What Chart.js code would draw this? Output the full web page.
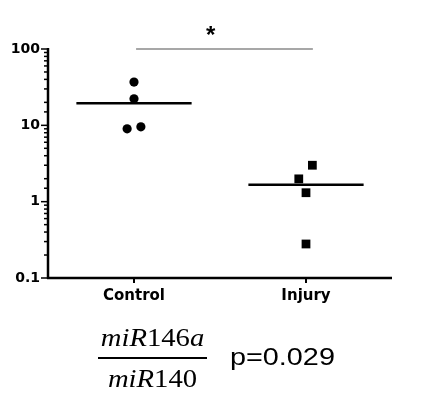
<!DOCTYPE html>
<html>
<head>
<meta charset="utf-8">
<script src="https://cdn.jsdelivr.net/npm/chart.js@4/dist/chart.umd.min.js"></script>
<style>
  html, body { margin: 0; padding: 0; background: #fff; }
  #wrap { position: relative; width: 432px; height: 407px; overflow: hidden; }
  #c { position: absolute; left: 0; top: 0; }
  .ann { position: absolute; white-space: nowrap; color: #000; }
  .star { font-family: "Liberation Sans", Arial, sans-serif; font-weight: bold; font-size: 24px; line-height: 24px; }
  .frac { font-family: "Liberation Serif", "Times New Roman", serif; font-size: 24.5px; line-height: 24.5px; text-align: center; transform: scaleX(1.17); transform-origin: center; }
  .fracline { position: absolute; height: 0; border-top: 2px solid #000; }
  .pval { font-family: "Liberation Sans", Arial, sans-serif; font-size: 24px; line-height: 24px; transform: scaleX(1.2); transform-origin: left; }
</style>
</head>
<body>
<div id="wrap">
  <canvas id="c" width="432" height="407"></canvas>
  <div class="ann star" id="star" style="left:206px; top:23px;">*</div>
  <div class="ann frac" style="left:98px; width:109px; top:326px;"><i>miR</i>146<i>a</i></div>
  <div class="fracline" style="left:98px; width:109px; top:357px;"></div>
  <div class="ann frac" style="left:98px; width:109px; top:367px;"><i>miR</i>140</div>
  <div class="ann pval" style="left:230px; top:345px;">p=0.029</div>
</div>
<script>
// ---- data ----
const categories = ['Control', 'Injury'];
const controlValues = [36.9, 22.3, 9.0, 9.55];
const controlJitter = [0, 0, -0.04, 0.04];
const injuryValues = [3.0, 1.99, 1.31, 0.279];
const injuryJitter = [0.037, -0.042, 0, 0];
const groupMeans = [19.5, 1.67];
const yTickValues = [0.1, 1, 10, 100];
const sigBracket = { from: 0.012, to: 1.04, y: 100 };

const meanHalfWidth = 0.335;

const controlPts = controlValues.map((v, i) => ({ x: 0 + controlJitter[i], y: v }));
const injuryPts = injuryValues.map((v, i) => ({ x: 1 + injuryJitter[i], y: v }));
const meanLine = (idx) => [
  { x: idx - meanHalfWidth, y: groupMeans[idx] },
  { x: idx + meanHalfWidth, y: groupMeans[idx] }
];

const axesPlugin = {
  id: 'prismAxes',
  afterDraw(chart) {
    const ctx = chart.ctx;
    const area = chart.chartArea;
    const ys = chart.scales.y;
    const xs = chart.scales.x;
    ctx.save();
    ctx.strokeStyle = '#000';
    ctx.lineCap = 'butt';
    // y ticks (major longer, minor shorter)
    ctx.lineWidth = 1.5;
    ys.ticks.forEach(t => {
      const py = ys.getPixelForValue(t.value);
      const lg = Math.log10(t.value);
      const major = Math.abs(lg - Math.round(lg)) < 1e-6;
      const len = major ? 7 : 4;
      ctx.beginPath();
      ctx.moveTo(area.left - len, py);
      ctx.lineTo(area.left, py);
      ctx.stroke();
    });
    // x ticks
    ctx.lineWidth = 2;
    [0, 1].forEach(v => {
      const px = xs.getPixelForValue(v);
      ctx.beginPath();
      ctx.moveTo(px, area.bottom);
      ctx.lineTo(px, area.bottom + 5);
      ctx.stroke();
    });
    // axis lines
    ctx.lineWidth = 2.5;
    ctx.beginPath();
    ctx.moveTo(area.left, area.top - 1);
    ctx.lineTo(area.left, area.bottom + 1);
    ctx.stroke();
    ctx.beginPath();
    ctx.moveTo(area.left - 1, area.bottom);
    ctx.lineTo(area.right, area.bottom);
    ctx.stroke();
    ctx.restore();
  }
};

new Chart(document.getElementById('c'), {
  type: 'scatter',
  data: {
    datasets: [
      {
        label: 'Control',
        data: controlPts,
        pointStyle: 'circle',
        pointRadius: 4.6,
        pointHoverRadius: 4.6,
        backgroundColor: '#000',
        borderColor: '#000',
        borderWidth: 0,
        clip: false
      },
      {
        label: 'Injury',
        data: injuryPts,
        pointStyle: 'rect',
        pointRadius: 6.2,
        pointHoverRadius: 6.2,
        backgroundColor: '#000',
        borderColor: '#000',
        borderWidth: 0,
        clip: false
      },
      {
        label: 'Control mean',
        data: meanLine(0),
        showLine: true,
        pointRadius: 0,
        borderColor: '#000',
        borderWidth: 2.5,
        clip: false
      },
      {
        label: 'Injury mean',
        data: meanLine(1),
        showLine: true,
        pointRadius: 0,
        borderColor: '#000',
        borderWidth: 2.5,
        clip: false
      },
      {
        label: 'Significance',
        data: [{ x: sigBracket.from, y: sigBracket.y }, { x: sigBracket.to, y: sigBracket.y }],
        showLine: true,
        pointRadius: 0,
        borderColor: '#8a8a8a',
        borderWidth: 1.6,
        clip: false
      }
    ]
  },
  options: {
    responsive: false,
    animation: false,
    devicePixelRatio: 1,
    layout: { padding: { left: 0, right: 40, top: 49, bottom: 0 } },
    plugins: { legend: { display: false }, tooltip: { enabled: false } },
    scales: {
      x: {
        type: 'linear',
        min: -0.5,
        max: 1.5,
        grid: { display: false, drawTicks: false, tickLength: 0 },
        border: { display: false },
        afterBuildTicks: (s) => { s.ticks = categories.map((c, i) => ({ value: i })); },
        afterFit: (s) => { s.height = 129; },
        ticks: {
          autoSkip: false,
          maxRotation: 0,
          padding: 9,
          color: '#000',
          font: { family: 'DejaVu Sans', weight: 'bold', size: 15 },
          callback: (v) => categories[v] !== undefined ? categories[v] : ''
        }
      },
      y: {
        type: 'logarithmic',
        min: 0.1,
        max: 100,
        grid: { display: false, drawTicks: false, tickLength: 0 },
        border: { display: false },
        afterFit: (s) => { s.width = 48; },
        ticks: {
          autoSkip: false,
          padding: 8,
          color: '#000',
          font: { family: 'DejaVu Sans', weight: 'bold', size: 14 },
          callback: (v) => {
            const hit = yTickValues.find(t => Math.abs(t - v) < 1e-9);
            return hit !== undefined ? String(hit) : '';
          }
        }
      }
    }
  },
  plugins: [axesPlugin]
});
</script>
</body>
</html>
